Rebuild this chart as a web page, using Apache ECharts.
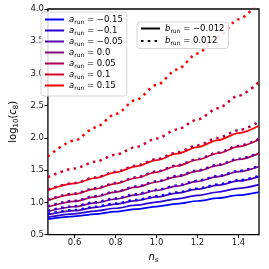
<!DOCTYPE html>
<html>
<head>
<meta charset="utf-8">
<script src="https://cdn.jsdelivr.net/npm/echarts@6/dist/echarts.min.js"></script>
<style>html,body{margin:0;padding:0;background:#fff}#c{width:269px;height:269px}</style>
</head>
<body>
<div id="c"></div>
<script>
const nsValues = [0.47, 0.6, 0.7, 0.8, 0.9, 1.0, 1.1, 1.2, 1.3, 1.4, 1.5];
const aLabels = ['−0.15', '−0.1', '−0.05', '0.0', '0.05', '0.1', '0.15'];
const bLabels = ['−0.012', '0.012'];
const yTicks = [0.5, 1.0, 1.5, 2.0, 2.5, 3.0, 3.5, 4.0];
const xTicks = [0.6, 0.8, 1.0, 1.2, 1.4];
const lineColors = ['#0000ff', '#2a00d4', '#5500aa', '#800080', '#aa0055', '#d4002b', '#ff0000'];

// b_run = -0.012 (solid)
const solidAm015 = [0.74, 0.784, 0.819, 0.856, 0.895, 0.935, 0.977, 1.021, 1.066, 1.112, 1.16];
const solidAm010 = [0.77, 0.823, 0.865, 0.909, 0.956, 1.005, 1.055, 1.107, 1.161, 1.217, 1.275];
const solidAm005 = [0.81, 0.871, 0.921, 0.973, 1.027, 1.084, 1.143, 1.204, 1.267, 1.332, 1.40];
const solidA000  = [0.86, 0.932, 0.991, 1.052, 1.116, 1.184, 1.253, 1.325, 1.399, 1.476, 1.556];
const solidA005  = [0.93, 1.016, 1.086, 1.159, 1.235, 1.316, 1.399, 1.484, 1.573, 1.665, 1.76];
const solidA010  = [1.03, 1.128, 1.208, 1.291, 1.378, 1.469, 1.564, 1.661, 1.762, 1.866, 1.975];
const solidA015  = [1.19, 1.294, 1.378, 1.466, 1.558, 1.655, 1.755, 1.858, 1.965, 2.075, 2.19];
// b_run = 0.012 (dotted)
const dottedAm015 = [0.82, 0.881, 0.931, 0.983, 1.037, 1.094, 1.153, 1.214, 1.277, 1.342, 1.41];
const dottedAm010 = [0.87, 0.942, 1.001, 1.062, 1.126, 1.194, 1.263, 1.335, 1.409, 1.486, 1.566];
const dottedAm005 = [0.94, 1.026, 1.096, 1.169, 1.245, 1.326, 1.409, 1.494, 1.583, 1.675, 1.77];
const dottedA000  = [1.04, 1.138, 1.218, 1.301, 1.388, 1.479, 1.574, 1.671, 1.772, 1.876, 1.985];
const dottedA005  = [1.20, 1.30, 1.385, 1.475, 1.57, 1.67, 1.775, 1.885, 2.0, 2.12, 2.25];
const dottedA010  = [1.39, 1.525, 1.63, 1.74, 1.86, 1.99, 2.13, 2.285, 2.46, 2.655, 2.87];
const dottedA015  = [1.71, 1.96, 2.16, 2.37, 2.59, 2.82, 3.06, 3.31, 3.57, 3.84, 4.12];

const solidSets = [solidAm015, solidAm010, solidAm005, solidA000, solidA005, solidA010, solidA015];
const dottedSets = [dottedAm015, dottedAm010, dottedAm005, dottedA000, dottedA005, dottedA010, dottedA015];

const FONT = 'DejaVu Sans';
const DOT = [2.5, 4.3];
const pair = arr => nsValues.map((x, i) => [x, arr[i]]);

const series = [];
solidSets.forEach((arr, i) => {
  series.push({
    name: 'a' + aLabels[i], type: 'line', data: pair(arr), symbol: 'none',
    smooth: 0.3, smoothMonotone: 'x', clip: true,
    color: lineColors[i], lineStyle: { width: 1.7, color: lineColors[i] }, z: 2
  });
});
dottedSets.forEach((arr, i) => {
  series.push({
    name: 'd' + aLabels[i], type: 'line', data: pair(arr), symbol: 'none',
    smooth: 0.3, smoothMonotone: 'x', clip: true,
    color: lineColors[i], lineStyle: { width: 2.5, color: lineColors[i], type: DOT, cap: 'butt' }, z: 3
  });
});
series.push({ name: 'b' + bLabels[0], type: 'line', data: [], symbol: 'none', color: '#000', lineStyle: { width: 2.5, color: '#000' } });
series.push({ name: 'b' + bLabels[1], type: 'line', data: [], symbol: 'none', color: '#000', lineStyle: { width: 2.5, color: '#000', type: DOT, cap: 'butt' } });

const legRich = {
  i: { fontFamily: FONT, fontStyle: 'italic', fontSize: 8.5, color: '#000', lineHeight: 11, verticalAlign: 'middle' },
  s: { fontFamily: FONT, fontSize: 6, color: '#000', lineHeight: 11, verticalAlign: 'bottom' },
  t: { fontFamily: FONT, fontSize: 8.5, color: '#000', lineHeight: 11, verticalAlign: 'middle' }
};
const legBase = {
  orient: 'vertical', itemWidth: 19, itemHeight: 6, itemGap: 1,
  backgroundColor: 'rgba(255,255,255,0.85)', borderColor: '#d5d5d5', borderWidth: 1, borderRadius: 3,
  itemStyle: { opacity: 0 },
  textStyle: { rich: legRich }, selectedMode: false
};

const option = {
  animation: false,
  backgroundColor: '#fff',
  grid: { left: 39, right: 10, top: 9, bottom: 32, show: true, borderColor: '#000', borderWidth: 1.3, backgroundColor: 'transparent' },
  legend: [
    Object.assign({}, legBase, {
      left: 41, top: 12, padding: [3, 4, 5, 3],
      data: aLabels.map(l => 'a' + l),
      formatter: n => '{i|a}{s|run}{t| = ' + n.slice(1) + '}'
    }),
    Object.assign({}, legBase, {
      left: 137, top: 22, padding: [2, 4, 2, 3], itemGap: 2.5,
      data: bLabels.map(l => 'b' + l),
      formatter: n => '{i|b}{s|run}{t| = ' + n.slice(1) + '}'
    })
  ],
  xAxis: {
    type: 'value', min: 0.47, max: 1.5,
    name: '{i|n}{s|s}', nameLocation: 'middle', nameGap: 16,
    nameTextStyle: { rich: {
      i: { fontFamily: FONT, fontStyle: 'italic', fontSize: 10, color: '#000', lineHeight: 13, verticalAlign: 'middle' },
      s: { fontFamily: FONT, fontStyle: 'italic', fontSize: 7, color: '#000', lineHeight: 13, verticalAlign: 'bottom' }
    } },
    axisLine: { show: false },
    axisTick: { show: true, length: 3.5, inside: false, lineStyle: { color: '#000', width: 1 }, customValues: xTicks },
    axisLabel: { customValues: xTicks, fontFamily: FONT, fontSize: 8.5, color: '#222', margin: 4, formatter: v => v.toFixed(1) },
    splitLine: { show: false }
  },
  yAxis: {
    type: 'value', min: 0.5, max: 4.0, interval: 0.5,
    name: '{r|log}{s|10}{r|(}{i|c}{s|8}{r|)}', nameLocation: 'middle', nameGap: 23, nameRotate: 90,
    nameTextStyle: { rich: {
      r: { fontFamily: FONT, fontSize: 10, color: '#000', lineHeight: 13, verticalAlign: 'middle' },
      i: { fontFamily: FONT, fontStyle: 'italic', fontSize: 10, color: '#000', lineHeight: 13, verticalAlign: 'middle' },
      s: { fontFamily: FONT, fontSize: 7, color: '#000', lineHeight: 13, verticalAlign: 'bottom' }
    } },
    axisLine: { show: false },
    axisTick: { show: true, length: 3.5, lineStyle: { color: '#000', width: 1 } },
    axisLabel: { fontFamily: FONT, fontSize: 8.5, color: '#222', margin: 4, formatter: v => v.toFixed(1) },
    splitLine: { show: false }
  },
  series: series
};

const chart = echarts.init(document.getElementById('c'), null, { renderer: 'canvas' });
chart.setOption(option);
</script>
</body>
</html>
